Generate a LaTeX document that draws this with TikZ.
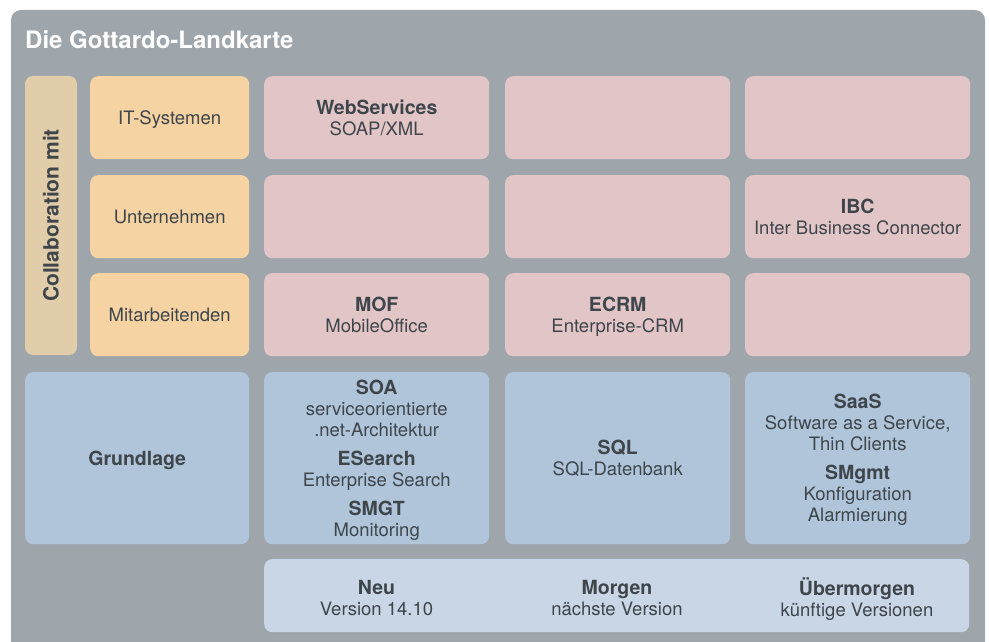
\documentclass[tikz,border=0pt]{standalone}
\usepackage{fontspec}
\setmainfont{TeX Gyre Heros}
\usetikzlibrary{positioning}

\definecolor{mapgray}{HTML}{9EA6AC}
\definecolor{collabfill}{HTML}{E1CDA9}
\definecolor{sidefill}{HTML}{F5D3A3}
\definecolor{pinkfill}{HTML}{E2C6C7}
\definecolor{bluefill}{HTML}{B0C5DA}
\definecolor{lightfill}{HTML}{C9D6E5}
\definecolor{textdark}{HTML}{3E454B}

\newcommand{\hd}[1]{{\fontsize{19.5}{21}\selectfont\bfseries #1}}

\begin{document}
\begin{tikzpicture}[
      x=1pt, y=-1pt,
      box/.style={rounded corners=8pt, anchor=north west, inner sep=0pt, text depth=0pt,
        align=center, text=textdark, font=\fontsize{18.5}{21}\selectfont},
      sidebox/.style={box, fill=sidefill, minimum width=159pt, minimum height=83pt},
      pinkbox/.style={box, fill=pinkfill, minimum width=225pt, minimum height=83pt},
      bluebox/.style={box, fill=bluefill, minimum width=225pt, minimum height=172pt},
      label/.style={inner sep=0pt, text depth=0pt, align=center, text=textdark,
        font=\fontsize{18.5}{21}\selectfont},
    ]
    \useasboundingbox (0,0) rectangle (989,642);
    \fill[white] (0,0) rectangle (989,642);
    % Draw the map background.
    \fill[mapgray, rounded corners=10pt] (11,10) rectangle (985,680);
    \node[anchor=west, inner sep=0pt, text=white,
      font=\bfseries\fontsize{24}{28}\selectfont] (title) at (25,40) {Die Gottardo-Landkarte};

    \coordinate (C1) at (264,0);
    \coordinate (C2) at (505,0);
    \coordinate (C3) at (745,0);
    \coordinate (R1) at (0,76);
    \coordinate (R2) at (0,175);
    \coordinate (R3) at (0,273);
    \coordinate (R4) at (0,372);

    % Collaboration column.
    \node[rounded corners=8pt, fill=collabfill, rotate=90, minimum width=279pt,
      minimum height=52pt, inner sep=0pt, text=textdark,
      font=\bfseries\fontsize{21}{24}\selectfont] (collab) at (51,215.5) {Collaboration mit};
    \node[sidebox] (itsys) at (90,76) {IT-Systemen};
    \node[sidebox] (untern) at (90,175) {Unternehmen};
    \node[sidebox] (mitarb) at (90,273) {Mitarbeitenden};

    % Pink rows.
    \node[pinkbox] (websrv) at (C1 |- R1) {\hd{WebServices}\\SOAP/XML};
    \node[pinkbox] (itsysb) at (C2 |- R1) {};
    \node[pinkbox] (itsysc) at (C3 |- R1) {};
    \node[pinkbox] (unterna) at (C1 |- R2) {};
    \node[pinkbox] (unternb) at (C2 |- R2) {};
    \node[pinkbox] (ibc) at (C3 |- R2) {\hd{IBC}\\Inter Business Connector};
    \node[pinkbox] (mof) at (C1 |- R3) {\hd{MOF}\\MobileOffice};
    \node[pinkbox] (ecrm) at (C2 |- R3) {\hd{ECRM}\\Enterprise-CRM};
    \node[pinkbox] (mitarbc) at (C3 |- R3) {};

    % Grundlage row.
    \node[box, fill=bluefill, minimum width=224pt, minimum height=172pt] (grund) at (25,372)
      {\hd{Grundlage}};
    \node[bluebox] (soa) at (C1 |- R4) {\hd{SOA}\\serviceorientierte\\.net-Architektur\\[8pt]
      \hd{ESearch}\\Enterprise Search\\[8pt]\hd{SMGT}\\Monitoring};
    \node[bluebox] (sql) at (C2 |- R4) {\hd{SQL}\\SQL-Datenbank};
    \node[bluebox] (saas) at (C3 |- R4) {\hd{SaaS}\\Software as a Service,\\Thin Clients\\[8pt]
      \hd{SMgmt}\\Konfiguration\\Alarmierung};

    % Versions.
    \node[box, fill=lightfill, minimum width=705pt, minimum height=73pt] (versions) at (264,559) {};
    \node[label] (neu) at (376.5,597.5) {\hd{Neu}\\Version 14.10};
    \node[label] (morgen) at (617,597.5) {\hd{Morgen}\\nächste Version};
    \node[label] (uebermorgen) at (857,597.5) {\hd{Übermorgen}\\künftige Versionen};
\end{tikzpicture}
\end{document}
